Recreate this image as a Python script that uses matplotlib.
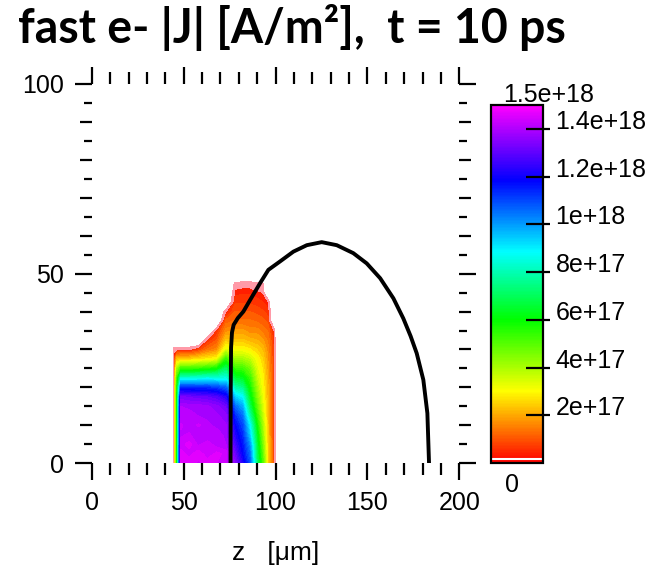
"""
Fast electron current density map |J| at t = 10 ps, with the black boundary curve.
"""

import numpy as np
import matplotlib
matplotlib.use('Agg')
import matplotlib.pyplot as plt
import matplotlib.cm as cm
from matplotlib.colors import LinearSegmentedColormap, Normalize
from matplotlib.ticker import MultipleLocator, FixedLocator

plt.rcParams['font.family'] = ['Liberation Sans', 'DejaVu Sans']
plt.rcParams['font.size'] = 18

# |J| map, values in units of 1e17 A/m^2 (-1 = no fast electrons -> white)
y_rows = [0, 2.5, 5, 7.5, 10, 12.5, 15, 17.5, 20, 22.5, 25, 27.5,
          30, 32.5, 35, 37.5, 40, 42.5, 45, 47.5, 50, 52.5]
z_cols = [44.0, 44.6, 46.3, 48.5, 53, 58, 63, 68, 73, 78, 82, 86, 90, 93, 96, 99, 101]

# one list per z column, bottom -> top
j_cols = [
    [-1] * 22,
    [0.5] * 12 + [0.2] + [-1] * 9,
    [5.5, 5.5, 5.5, 5.5, 5.5, 5.5, 5.5, 5.5, 5.5, 5.0, 4.0, 2.2, 0.3] + [-1] * 9,
    [14.5, 14.6, 14.4, 14.2, 14.3, 14.1, 14.0, 13.3, 11.3, 8.3, 5.2, 2.4, 0.3] + [-1] * 9,
    [14.7, 14.4, 14.6, 14.3, 14.1, 14.2, 13.9, 13.2, 11.3, 8.3, 5.2, 2.4, 0.3] + [-1] * 9,
    [14.4, 14.7, 14.2, 14.0, 14.3, 14.0, 13.9, 13.1, 11.2, 8.4, 5.3, 2.6, 0.7] + [-1] * 9,
    [14.7, 14.3, 14.4, 14.0, 14.1, 13.9, 13.8, 13.0, 11.2, 8.5, 5.5, 2.8, 1.3, 0.5] + [-1] * 8,
    [14.5, 14.6, 14.1, 14.2, 13.9, 13.8, 13.6, 12.8, 11.0, 8.4, 5.8, 3.0, 1.6, 1.0, 0.5] + [-1] * 7,
    [14.3, 14.4, 14.0, 13.9, 13.8, 13.6, 13.2, 12.2, 10.6, 8.5, 7.0, 5.3, 3.3, 2.3, 1.6, 1.1, 0.3] + [-1] * 5,
    [13.5, 13.1, 12.6, 12.2, 11.8, 11.3, 10.5, 9.3, 7.8, 6.5, 5.3, 4.0, 3.0, 2.3, 1.8, 1.3, 1.0, 0.7, 0.4, 0.1, -1, -1],
    [12.2, 11.8, 11.6, 11.3, 11.0, 10.5, 9.8, 8.8, 7.5, 6.3, 5.2, 4.0, 3.0, 2.3, 1.8, 1.3, 1.0, 0.7, 0.45, 0.15, -1, -1],
    [10.8, 10.5, 10.0, 9.3, 8.8, 7.8, 6.9, 6.3, 5.8, 5.3, 4.6, 3.7, 2.8, 2.1, 1.6, 1.3, 1.0, 0.7, 0.45, 0.15, -1, -1],
    [7.0, 6.8, 6.5, 6.2, 5.8, 5.3, 4.8, 4.4, 4.0, 3.6, 3.3, 3.0, 2.5, 2.0, 1.6, 1.2, 0.9, 0.6, 0.35, 0.1, -1, -1],
    [5.0, 4.8, 4.5, 4.2, 4.0, 3.7, 3.4, 3.2, 3.0, 2.9, 2.7, 2.5, 2.2, 1.8, 1.4, 1.1, 0.8, 0.5, 0.3, 0.05, -1, -1],
    [2.4, 2.3, 2.3, 2.2, 2.2, 2.1, 2.1, 2.0, 2.0, 1.9, 1.8, 1.7, 1.6, 1.4, 1.2, 0.9, 0.6, 0.3, -1, -1, -1, -1],
    [0.8] * 11 + [0.7, 0.7, 0.6, 0.4] + [-1] * 7,
    [-1] * 22,
]

# black boundary curve
curve_z = [75.5, 75.6, 75.8, 76.3, 77.2, 79.5, 82.5, 86.1, 91.6, 96.1, 102.4, 109.7, 117.0,
           125.1, 133.3, 142.3, 149.6, 156.9, 164.1, 169.5, 173.5, 176.8, 180.4, 182.6, 183.5]
curve_y = [0, 18.5, 30.5, 34.5, 36.5, 38.3, 40.0, 43.0, 47.5, 51.0, 53.2, 55.8, 57.5,
           58.3, 57.5, 55.4, 52.7, 48.8, 43.5, 38.2, 33.5, 29.0, 22.0, 13.2, 0]

cbar_ticks = [2, 4, 6, 8, 10, 12, 14]
cbar_labels = ['2e+17', '4e+17', '6e+17', '8e+17', '1e+18', '1.2e+18', '1.4e+18']

# red -> yellow -> green -> cyan -> blue -> magenta
cmap = LinearSegmentedColormap.from_list('jmap', [
    (0.0, '#ff0000'), (0.2, '#ffff00'), (0.4, '#00ff00'),
    (0.59, '#00ffff'), (0.79, '#0000ff'), (1.0, '#ff00ff')])
norm = Normalize(0, 15)

fig = plt.figure(figsize=(6.6, 5.69), dpi=100)
ax = fig.add_axes([0.139, 0.1858, 0.557, 0.6666])

J = np.array(j_cols).T
ax.contourf(z_cols, y_rows, J, levels=np.linspace(0, 15, 61), cmap=cmap, norm=norm)
# faint fringe where |J| is almost zero
ax.contourf(z_cols, y_rows, J, levels=[0, 0.3], colors=['#ff9aa8'])
ax.plot(curve_z, curve_y, color='black', lw=2.8, solid_capstyle='butt')

ax.set_xlim(0, 200)
ax.set_ylim(0, 100)
for s in ax.spines.values():
    s.set_visible(False)
ax.xaxis.set_major_locator(MultipleLocator(50))
ax.xaxis.set_minor_locator(MultipleLocator(10))
ax.yaxis.set_major_locator(MultipleLocator(50))
ax.yaxis.set_minor_locator(MultipleLocator(10))
ax.tick_params(which='both', direction='out', top=True, right=True, width=1.6, pad=8)
ax.tick_params(which='major', length=12)
ax.tick_params(which='minor', length=8.4)
ax.set_xlabel('z   [μm]', fontsize=19, labelpad=19)

# short ticks at odd multiples of 5 on the y axes
ax5 = fig.add_axes(ax.get_position(), frameon=False)
ax5.set_xlim(0, 200)
ax5.set_ylim(0, 100)
ax5.set_xticks([])
ax5.set_yticks(np.arange(5, 100, 10))
ax5.tick_params(axis='y', direction='out', left=True, right=True, length=5.5, width=1.6,
                labelleft=False)

# colorbar
cax = fig.add_axes([0.744, 0.1863, 0.0788, 0.629])
cb = fig.colorbar(cm.ScalarMappable(norm=norm, cmap=cmap), cax=cax)
cb.outline.set_linewidth(1.6)
cb.set_ticks(cbar_ticks)
cb.set_ticklabels(cbar_labels)
cax.tick_params(which='major', direction='in', length=12, width=1.6, pad=9, right=True)
cax.yaxis.remove_overlapping_locs = False
cax.yaxis.set_minor_locator(FixedLocator(cbar_ticks))
cax.tick_params(which='minor', direction='out', length=4.8, width=1.6, right=True, left=False)
for lbl in cax.get_yticklabels():
    lbl.set_verticalalignment('baseline')
cax.axhline(0.17, color='white', lw=1.5)

fig.text(549 / 660, 1 - 95 / 569, '1.5e+18', ha='center', va='center')
fig.text(512 / 660, 1 - 485 / 569, '0', ha='center', va='center')

fig.text(18 / 660, 1 - 43 / 569, 'fast e- |J| [A/m²],  t = 10 ps', family='Lato',
         fontsize=33.5, fontweight='bold', va='baseline', ha='left')

fig.savefig('out.png', dpi=100)
